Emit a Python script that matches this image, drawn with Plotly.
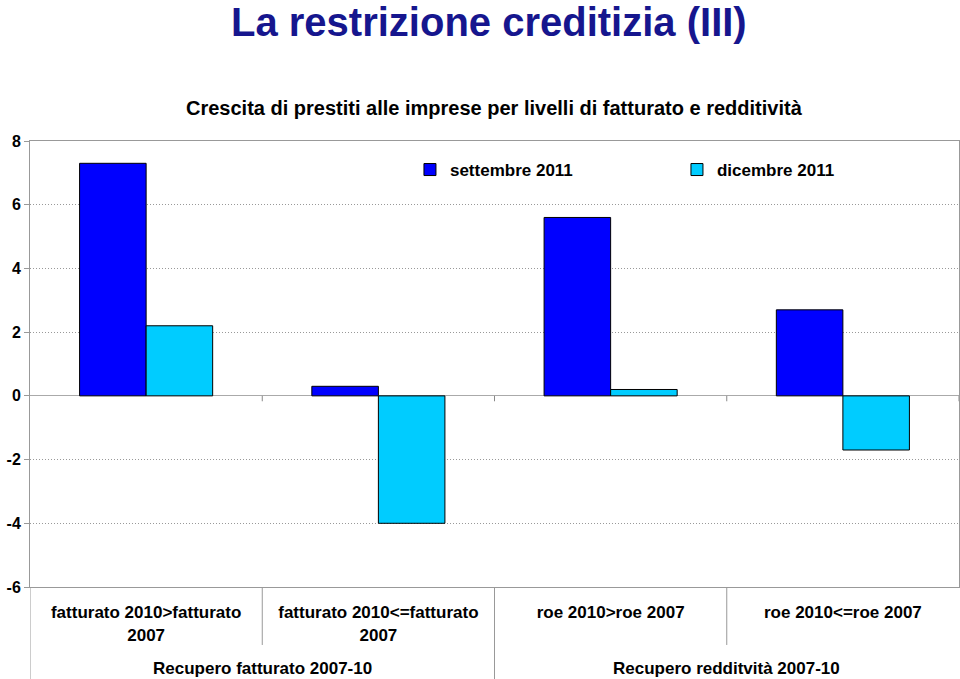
import plotly.graph_objects as go

categories = ["fatturato 2010>fatturato<br>2007", "fatturato 2010<=fatturato<br>2007",
              "roe 2010>roe 2007", "roe 2010<=roe 2007"]
sept_2011 = [7.3, 0.3, 5.6, 2.7]
dec_2011 = [2.2, -4.0, 0.2, -1.7]
series_names = ["settembre 2011", "dicembre 2011"]
group_labels = ["Recupero fatturato 2007-10", "Recupero redditvità 2007-10"]
y_ticks = [-6, -4, -2, 0, 2, 4, 6, 8]
y_tick_labels = ["-6", "-4", "-2", "0", "2", "4", "6", "8"]

FONT = "Liberation Sans, Arial, sans-serif"
idx = list(range(len(categories)))

fig = go.Figure()
fig.add_trace(go.Bar(x=idx, y=sept_2011, name=series_names[0],
                     marker=dict(color="#0000FF", line=dict(color="#000000", width=1))))
fig.add_trace(go.Bar(x=idx, y=dec_2011, name=series_names[1],
                     marker=dict(color="#00CCFF", line=dict(color="#000000", width=1))))

shapes = []
# separators below plot
for xb, y1 in [(-0.5, -0.21), (0.5, -0.13), (1.5, -0.21), (2.5, -0.13)]:
    shapes.append(dict(type="line", xref="x", yref="paper", x0=xb, x1=xb, y0=0, y1=y1,
                       line=dict(color="#999999", width=1)))
# small ticks on zero line
for xb in [0.5, 1.5, 2.5, 3.5]:
    shapes.append(dict(type="line", xref="x", yref="y", x0=xb, x1=xb, y0=0, y1=-0.17,
                       line=dict(color="#888888", width=1)))

annotations = [
    dict(text="La restrizione creditizia (III)", xref="paper", yref="paper", x=0.494, y=1.267,
         xanchor="center", yanchor="middle", showarrow=False,
         font=dict(family=FONT, size=40, color="#16168E", weight="bold")),
    dict(text="Crescita di prestiti alle imprese per livelli di fatturato e redditività",
         xref="paper", yref="paper", x=0.5, y=1.074, xanchor="center", yanchor="middle",
         showarrow=False, font=dict(family=FONT, size=20, color="#000000", weight="bold")),
]
for gi, lab in enumerate(group_labels):
    annotations.append(dict(text=lab, xref="x", yref="paper", x=0.5 + 2 * gi, y=-0.182,
                            xanchor="center", yanchor="middle", showarrow=False,
                            font=dict(family=FONT, size=17, color="#000000", weight="bold")))

fig.update_layout(
    width=960, height=679,
    margin=dict(l=30, r=1, t=141, b=92, autoexpand=False),
    paper_bgcolor="white", plot_bgcolor="white",
    barmode="group", bargap=0.427, bargroupgap=0,
    font=dict(family=FONT, color="#000000"),
    showlegend=True,
    legend=dict(orientation="h", x=0.409, y=0.935,
                xanchor="left", yanchor="middle", entrywidth=222, entrywidthmode="pixels",
                font=dict(family=FONT, size=17, weight="bold"), bgcolor="rgba(0,0,0,0)"),
    shapes=shapes,
    annotations=annotations,
)
fig.update_xaxes(
    tickmode="array", tickvals=idx, ticktext=categories, range=[-0.5, 3.5],
    showline=True, linecolor="#999999", linewidth=1, mirror=True, automargin=False,
    showgrid=False, zeroline=False, ticks="", ticklabelstandoff=10, tickangle=0,
    tickfont=dict(family=FONT, size=17, weight="bold"),
)
fig.update_yaxes(
    range=[-6, 8], tickmode="array", tickvals=y_ticks, ticktext=y_tick_labels,
    showline=True, linecolor="#999999", linewidth=1, mirror=True,
    showgrid=True, gridcolor="#999999", griddash="1px,2px", gridwidth=1, automargin=False,
    zeroline=True, zerolinecolor="#AAAAAA", zerolinewidth=1,
    ticks="outside", ticklen=5, tickcolor="#999999",
    tickfont=dict(family=FONT, size=16, weight="bold"),
)

fig.write_html("out.html", config={"displayModeBar": False},
               post_script="document.body.style.margin='0px';")
